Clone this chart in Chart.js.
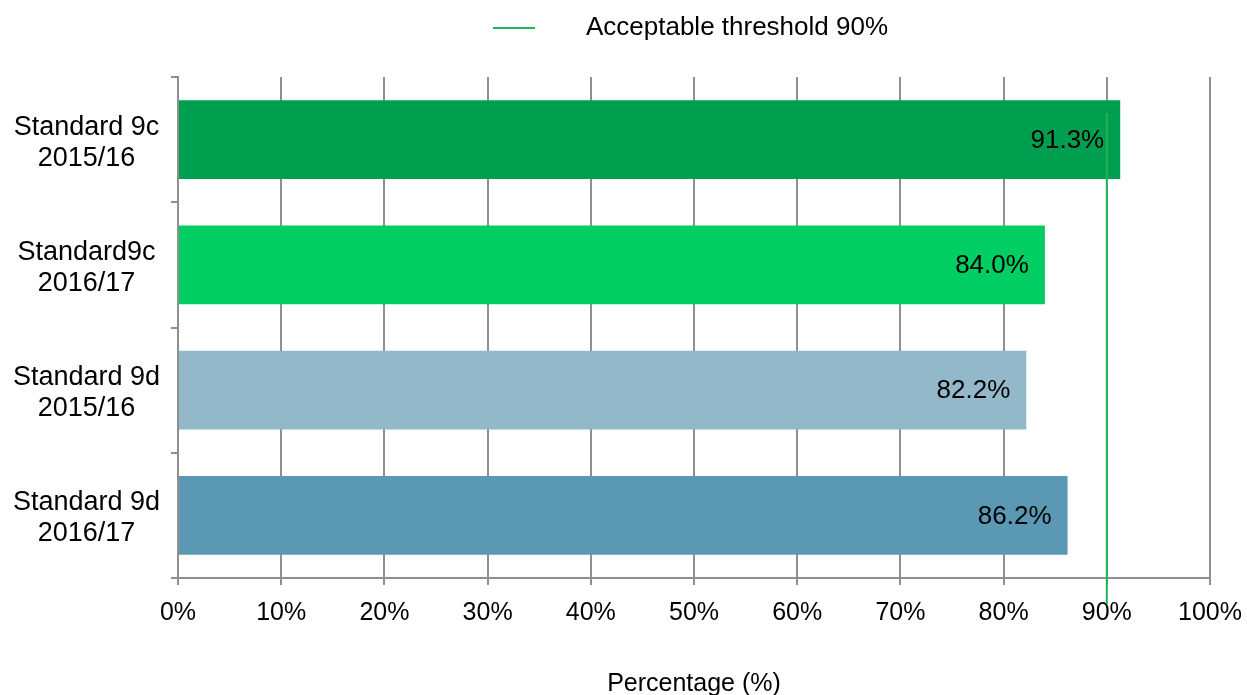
<!DOCTYPE html>
<html>
<head>
<meta charset="utf-8">
<title>Standard 9c / 9d</title>
<script src="https://cdn.jsdelivr.net/npm/chart.js@4.4.1/dist/chart.umd.min.js"></script>
<style>
  html, body { margin: 0; padding: 0; background: #fff; }
</style>
</head>
<body>
<canvas id="standardsChart" width="1247" height="695"></canvas>
<script>
// categories, top to bottom
var categories = [
  ['Standard 9c', '2015/16'],
  ['Standard9c', '2016/17'],
  ['Standard 9d', '2015/16'],
  ['Standard 9d', '2016/17']
];
var percentages = [91.3, 84.0, 82.2, 86.2];
var barColours = ['#009E4F', '#00CD62', '#92B8CA', '#5B98B4'];

var thresholdLabel = 'Acceptable threshold 90%';
var thresholdValue = 90;
// how far the threshold line runs, in category units on the hidden y2 axis (0 = bottom, 4 = top)
var thresholdSpan = [3.71, -0.21];

var xMin = 0, xMax = 100, xStep = 10;
var axisTitle = 'Percentage (%)';

var gridGrey = '#8F8F8F';
var lineGreen = '#21B55B';

Chart.defaults.font.family = "'Liberation Sans', Arial, sans-serif";
Chart.defaults.color = '#000';

// legend marker: short line inside a wide transparent box, so the item lines up over the plot
var legendMark = document.createElement('canvas');
legendMark.width = 251;
legendMark.height = 4;
(function () {
  var c = legendMark.getContext('2d');
  c.strokeStyle = lineGreen;
  c.lineWidth = 2;
  c.beginPath();
  c.moveTo(171, 2);
  c.lineTo(213, 2);
  c.stroke();
})();

// value text inside the end of each bar
var valueLabels = {
  id: 'valueLabels',
  afterDatasetsDraw: function (chart) {
    var ctx = chart.ctx;
    var meta = chart.getDatasetMeta(0);
    ctx.save();
    ctx.font = "26px 'Liberation Sans', Arial, sans-serif";
    ctx.fillStyle = '#000';
    ctx.textAlign = 'right';
    ctx.textBaseline = 'middle';
    meta.data.forEach(function (bar, i) {
      ctx.fillText(percentages[i].toFixed(1) + '%', bar.x - 16, bar.y + 1);
    });
    ctx.restore();
  }
};

// extra room under the legend
var legendGap = {
  id: 'legendGap',
  beforeLayout: function (chart) {
    var lg = chart.legend;
    if (lg && !lg._gapAdded) {
      var fit = lg.fit;
      lg.fit = function () {
        fit.call(this);
        this.height += 26;
      };
      lg._gapAdded = true;
    }
  }
};

new Chart(document.getElementById('standardsChart'), {
  type: 'bar',
  data: {
    labels: categories,
    datasets: [
      {
        label: 'Percentage',
        data: percentages,
        backgroundColor: barColours,
        categoryPercentage: 1,
        barPercentage: 0.63,
        grouped: false,
        xAxisID: 'x',
        yAxisID: 'y',
        order: 1
      },
      {
        type: 'line',
        label: thresholdLabel,
        data: [
          { x: thresholdValue, y: thresholdSpan[0] },
          { x: thresholdValue, y: thresholdSpan[1] }
        ],
        borderColor: lineGreen,
        borderWidth: 2,
        pointRadius: 0,
        fill: false,
        clip: false,
        xAxisID: 'x',
        yAxisID: 'y2',
        order: 0
      }
    ]
  },
  options: {
    indexAxis: 'y',
    responsive: false,
    animation: false,
    layout: { padding: { left: 0, right: 37, top: 5, bottom: 0 } },
    scales: {
      x: {
        min: xMin,
        max: xMax,
        ticks: {
          stepSize: xStep,
          padding: 13,
          maxRotation: 0,
          font: { size: 25 },
          callback: function (v) { return v + '%'; }
        },
        grid: { color: gridGrey, lineWidth: 2, tickLength: 7 },
        border: { color: gridGrey, width: 2 },
        title: {
          display: true,
          text: axisTitle,
          font: { size: 25 },
          padding: { top: 0, bottom: -4 }
        },
        afterFit: function (s) {
          s.height = 117;
          s.paddingLeft = 0;
          s.paddingRight = 0;
        }
      },
      y: {
        type: 'category',
        position: 'left',
        offset: true,
        grid: { offset: true, drawOnChartArea: false, tickLength: 7, color: gridGrey, lineWidth: 2 },
        border: { color: gridGrey, width: 2 },
        ticks: { crossAlign: 'center', padding: 11, labelOffset: 3, font: { size: 27, lineHeight: 1.15 } },
        afterFit: function (s) { s.width = 178; }
      },
      y2: {
        type: 'linear',
        axis: 'y',
        position: 'right',
        display: false,
        offset: false,
        min: 0,
        max: 4
      }
    },
    plugins: {
      tooltip: { enabled: false },
      legend: {
        position: 'top',
        align: 'center',
        labels: {
          filter: function (item) { return item.datasetIndex === 1; },
          usePointStyle: true,
          pointStyle: legendMark,
          pointStyleWidth: 251,
          font: { size: 26 },
          padding: 10
        }
      }
    }
  },
  plugins: [valueLabels, legendGap]
});
</script>
</body>
</html>
